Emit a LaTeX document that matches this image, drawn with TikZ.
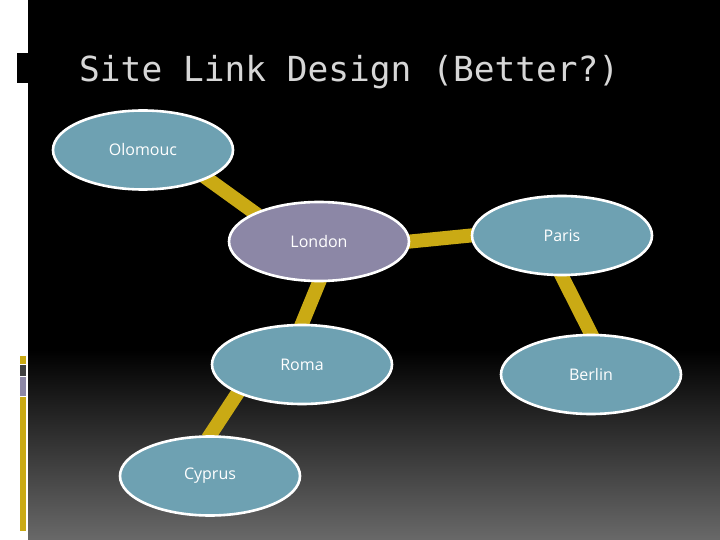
\documentclass[tikz,border=0pt]{standalone}
\usepackage{fontspec}
\setmainfont{Open Sans}
\newfontfamily\titlefont{DejaVu Sans Mono}
\usetikzlibrary{shapes.geometric}
\definecolor{teal}{RGB}{110,161,178}
\definecolor{lav}{RGB}{140,135,166}
\definecolor{gold}{RGB}{202,170,20}
\definecolor{titlegray}{RGB}{215,215,215}
\definecolor{bargray}{RGB}{64,64,64}
\pgfdeclarelayer{bg}
\pgfdeclarelayer{links}
\pgfsetlayers{bg,links,main}
\begin{document}
\begin{tikzpicture}[x=1pt,y=-1pt,
  site/.style={ellipse,draw=white,line width=2.6pt,minimum width=180pt,minimum height=79pt,
    text=white,font=\fontsize{16}{18}\selectfont,inner sep=0pt},
  link/.style={gold,line width=14pt,shorten <=-4pt,shorten >=-4pt}]
\useasboundingbox (0,0) rectangle (720,540);
% background
\begin{pgfonlayer}{bg}
\fill[white] (0,0) rectangle (720,540);
\fill[black] (28,0) rectangle (720,350);
\shade[top color=black,bottom color={rgb,255:red,105;green,105;blue,105}] (28,349.5) rectangle (720,540.5);
\fill[black] (17,53) rectangle (28,83);
% left bars
\fill[gold] (20,356) rectangle (26,364);
\fill[bargray] (20,365) rectangle (26,376);
\fill[lav] (20,377) rectangle (26,396);
\fill[gold] (20,397) rectangle (26,531);
\end{pgfonlayer}
% title
\node[anchor=base west,inner sep=0pt,text=titlegray,font=\titlefont\fontsize{34.5}{40}\selectfont] (title) at (79,82) {Site Link Design (Better?)};
% nodes
\node[site,fill=teal] (olo) at (143,150) {Olomouc};
\node[site,fill=lav] (lon) at (319,241.5) {London};
\node[site,fill=teal] (par) at (562,235.5) {Paris};
\node[site,fill=teal] (ber) at (591,374.5) {Berlin};
\node[site,fill=teal] (rom) at (302,364.5) {Roma};
\node[site,fill=teal] (cyp) at (210,476) {Cyprus};
% links
\begin{pgfonlayer}{links}
\draw[link] (olo.south east) -- (lon.north west);
\draw[link] (lon.east) -- (par.west);
\draw[link] (lon.south) -- (rom.north);
\draw[link] (par.south) -- (ber.north);
\draw[link] (rom.south west) -- (cyp.north);
\end{pgfonlayer}
\end{tikzpicture}
\end{document}
